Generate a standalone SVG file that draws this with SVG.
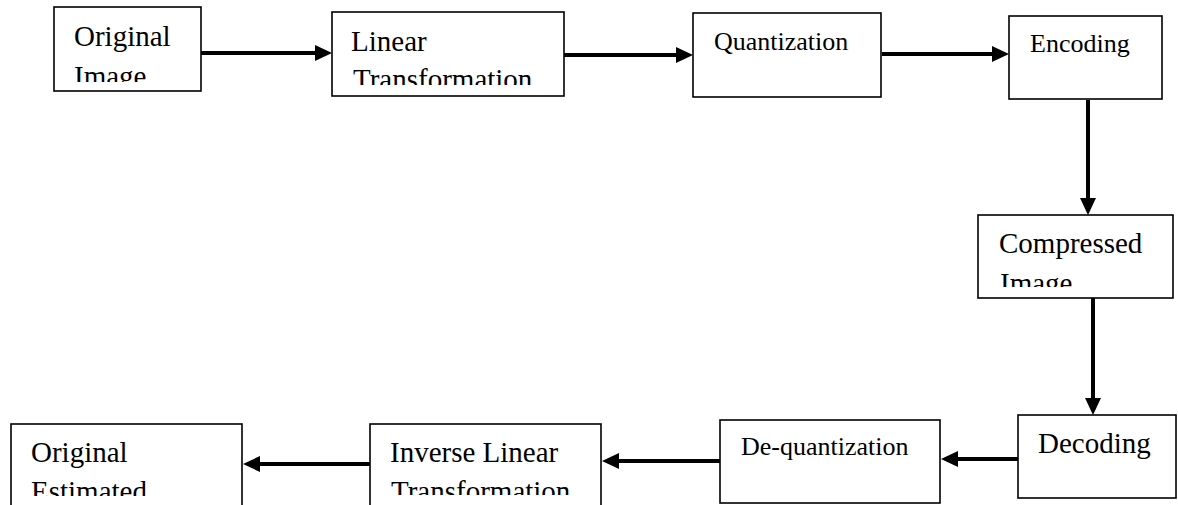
<svg xmlns="http://www.w3.org/2000/svg" width="1178" height="505" viewBox="0 0 1178 505">
  <style>
    .box { fill: #ffffff; stroke: #000000; stroke-width: 1.6; }
    .lbl { font-family: "Liberation Serif", "Times New Roman", serif; fill: #000000; }
    .big { font-size: 29px; }
    .small { font-size: 26px; }
    .conn { stroke: #000000; stroke-width: 4; fill: none; marker-end: url(#head); }
  </style>
  <defs>
    <marker id="head" viewBox="0 0 17 16" refX="5" refY="8" markerWidth="17" markerHeight="16" markerUnits="userSpaceOnUse" orient="auto">
      <path d="M0,0 L17,8 L0,16 z" fill="#000000"/>
    </marker>
    <!-- text areas inside boxes; second lines are cut off at the bottom -->
    <clipPath id="clip-orig"><rect x="56" y="9" width="142" height="73"/></clipPath>
    <clipPath id="clip-lin"><rect x="334" y="14" width="228" height="71"/></clipPath>
    <clipPath id="clip-comp"><rect x="980" y="217" width="192" height="70"/></clipPath>
    <clipPath id="clip-est"><rect x="13" y="426" width="227" height="70"/></clipPath>
    <clipPath id="clip-inv"><rect x="372" y="426" width="227" height="69"/></clipPath>
  </defs>

  <g id="connectors">
    <line class="conn" x1="201" y1="53" x2="320" y2="53"/>
    <line class="conn" x1="564" y1="55" x2="681" y2="55"/>
    <line class="conn" x1="882" y1="54" x2="997" y2="54"/>
    <line class="conn" x1="1088" y1="100" x2="1088" y2="203"/>
    <line class="conn" x1="1093" y1="298" x2="1093" y2="403"/>
    <line class="conn" x1="1018" y1="459" x2="953" y2="459"/>
    <line class="conn" x1="720" y1="461" x2="614" y2="461"/>
    <line class="conn" x1="370" y1="464" x2="255" y2="464"/>
  </g>

  <g id="original-image">
    <rect class="box" x="54" y="7" width="147" height="84"/>
    <g clip-path="url(#clip-orig)">
      <text class="lbl big" x="74" y="46">Original</text>
      <text class="lbl big" x="74" y="86">Image</text>
    </g>
  </g>

  <g id="linear-transformation">
    <rect class="box" x="332" y="12" width="232" height="84"/>
    <g clip-path="url(#clip-lin)">
      <text class="lbl big" x="351" y="51">Linear</text>
      <text class="lbl big" x="353" y="89">Transformation</text>
    </g>
  </g>

  <g id="quantization">
    <rect class="box" x="693" y="13" width="188" height="84"/>
    <text class="lbl small" x="714" y="50">Quantization</text>
  </g>

  <g id="encoding">
    <rect class="box" x="1009" y="16" width="153" height="83"/>
    <text class="lbl small" x="1030" y="52">Encoding</text>
  </g>

  <g id="compressed-image">
    <rect class="box" x="978" y="215" width="195" height="83"/>
    <g clip-path="url(#clip-comp)">
      <text class="lbl big" x="999" y="253">Compressed</text>
      <text class="lbl big" x="1000" y="293">Image</text>
    </g>
  </g>

  <g id="decoding">
    <rect class="box" x="1018" y="415" width="158" height="83"/>
    <text class="lbl big" x="1038" y="453">Decoding</text>
  </g>

  <g id="de-quantization">
    <rect class="box" x="720" y="420" width="220" height="83"/>
    <text class="lbl small" x="741" y="455">De-quantization</text>
  </g>

  <g id="inverse-linear-transformation">
    <rect class="box" x="370" y="424" width="231" height="90"/>
    <g clip-path="url(#clip-inv)">
      <text class="lbl big" x="390" y="462">Inverse Linear</text>
      <text class="lbl big" x="391" y="501">Transformation</text>
    </g>
  </g>

  <g id="original-estimated">
    <rect class="box" x="11" y="424" width="231" height="90"/>
    <g clip-path="url(#clip-est)">
      <text class="lbl big" x="31" y="462">Original</text>
      <text class="lbl big" x="31" y="501">Estimated</text>
    </g>
  </g>
</svg>
